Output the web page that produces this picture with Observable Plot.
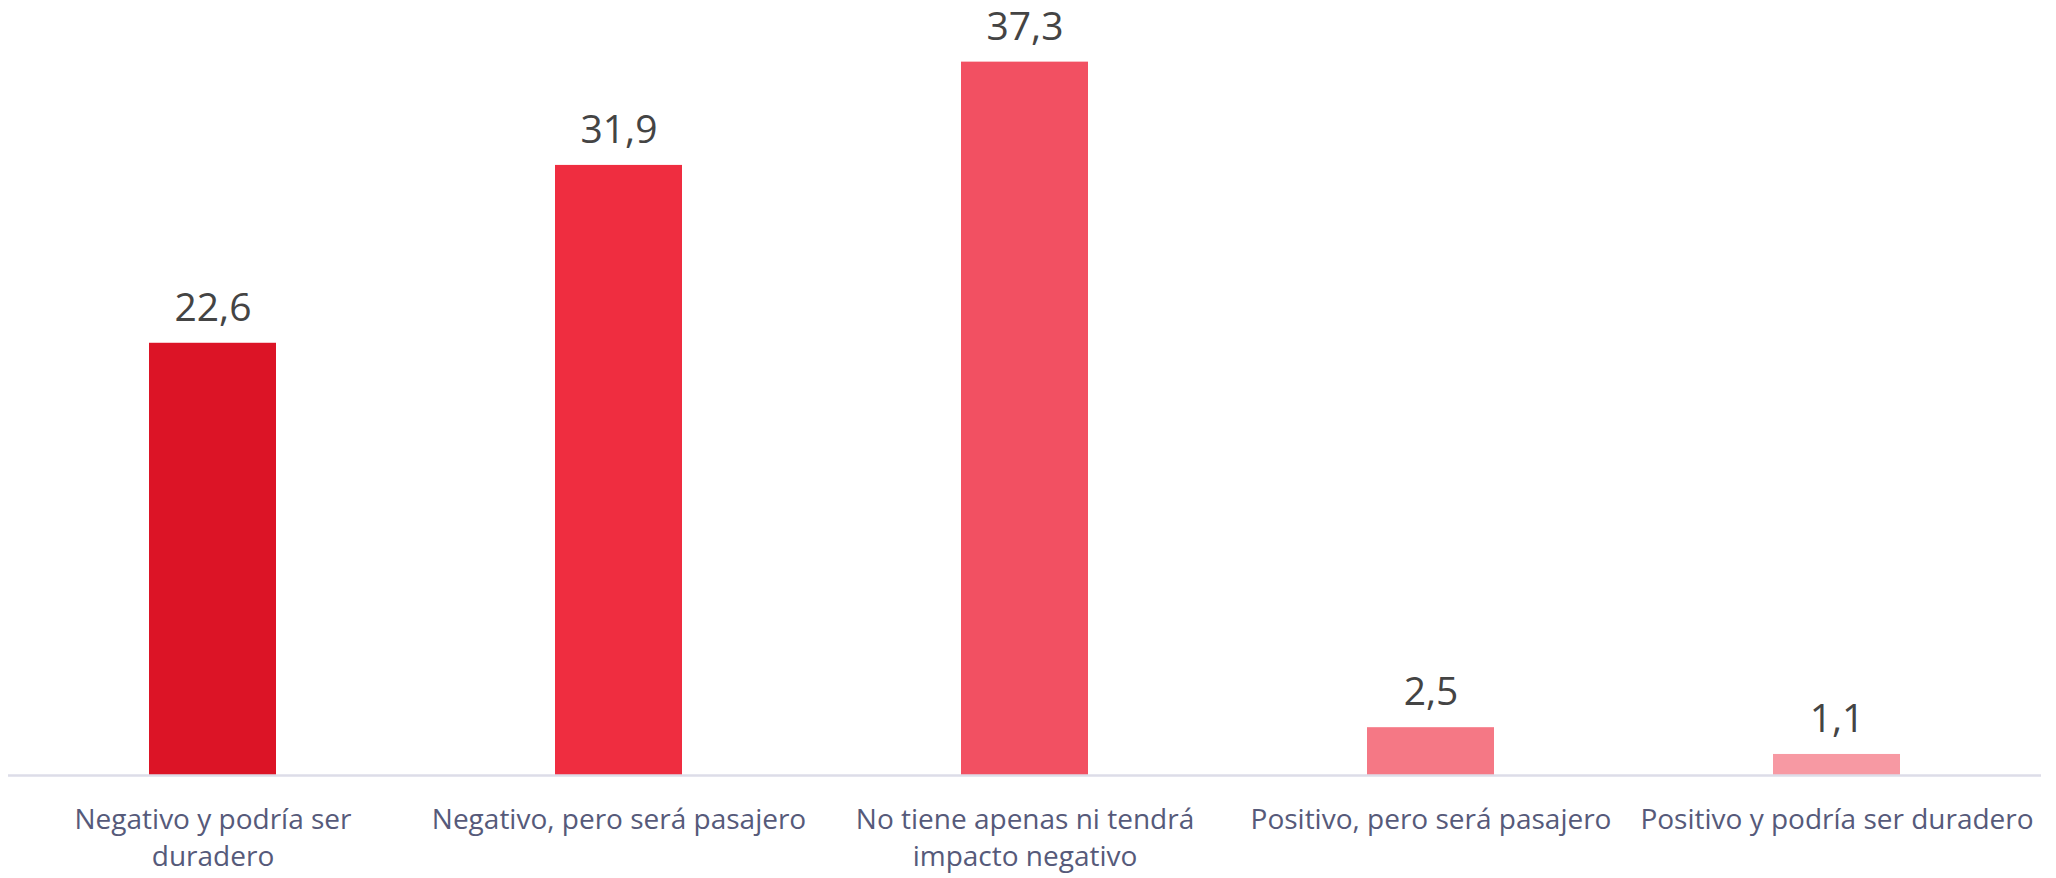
<!DOCTYPE html>
<html>
<head>
<meta charset="utf-8">
<script src="https://cdn.jsdelivr.net/npm/d3@7"></script>
<script src="https://cdn.jsdelivr.net/npm/@observablehq/plot@0.6"></script>
<style>
  html, body { margin: 0; padding: 0; background: #ffffff; }
  #chart svg { display: block; }
</style>
</head>
<body>
<div id="chart"></div>
<script>
const categories = [
  "Negativo y podría ser\nduradero",
  "Negativo, pero será pasajero",
  "No tiene apenas ni tendrá\nimpacto negativo",
  "Positivo, pero será pasajero",
  "Positivo y podría ser duradero"
];
const values = [22.6, 31.9, 37.3, 2.5, 1.1];
const barColors = ["#DC1426", "#EF2D40", "#F25062", "#F57885", "#F799A3"];

const data = categories.map((c, i) => ({category: c, value: values[i], color: barColors[i]}));
const fmt = v => v.toFixed(1).replace(".", ",");

const chart = Plot.plot({
  width: 2056,
  height: 878,
  marginTop: 10,
  marginBottom: 103,
  marginLeft: 8,
  marginRight: 15,
  style: {fontFamily: "'Open Sans', sans-serif", background: "#ffffff"},
  x: {domain: categories, paddingInner: 0.6875, paddingOuter: 0.34375, label: null},
  y: {domain: [0, 40], axis: null},
  marks: [
    Plot.barY(data, {x: "category", y: "value", fill: "color"}),
    Plot.ruleY([0], {stroke: "#dddde8", strokeWidth: 2.5}),
    Plot.text(data, {
      x: "category", y: "value", text: d => fmt(d.value),
      dy: -35, lineAnchor: "middle", fontSize: 39, fill: "#444444"
    }),
    Plot.axisX({
      tickSize: 0, tickPadding: 28, fontSize: 28, lineHeight: 1.3,
      fill: "#565A7A", label: null, lineAnchor: "top"
    })
  ]
});
document.getElementById("chart").appendChild(chart);
</script>
</body>
</html>
